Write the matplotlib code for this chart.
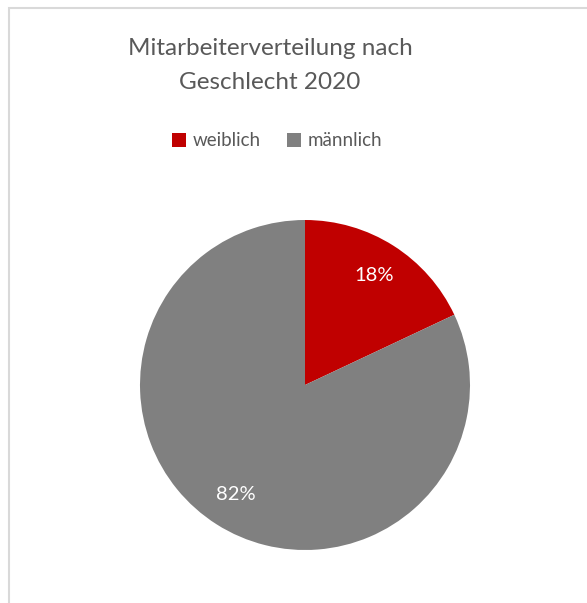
import matplotlib
matplotlib.use("Agg")
import matplotlib.pyplot as plt
from matplotlib.patches import Rectangle

labels = ["weiblich", "männlich"]
values = [18, 82]
colors = ["#C00000", "#808080"]
title = "Mitarbeiterverteilung nach\nGeschlecht 2020"

W, H = 587, 603
fig = plt.figure(figsize=(W / 100, H / 100), dpi=100)
fig.patch.set_facecolor("white")
plt.rcParams["font.family"] = ["Lato", "DejaVu Sans"]

# border
fig.add_artist(Rectangle((9 / W, -0.1), 1.2, (H - 8) / H + 0.1, transform=fig.transFigure,
                         fill=False, edgecolor="#D9D9D9", linewidth=1.5))

ax = fig.add_axes([140 / W, 53 / H, 330 / W, 330 / H])
wedges, texts, autotexts = ax.pie(values, colors=colors, startangle=90, counterclock=False,
                                  autopct=lambda p: f"{p:.0f}%", pctdistance=0.787,
                                  textprops=dict(color="white", fontsize=14.5),
                                  wedgeprops=dict(linewidth=0))
ax.set_xlim(-1, 1)
ax.set_ylim(-1, 1)
ax.set_aspect("equal")
ax.axis("off")

fig.text(270 / W, 1 - 65.5 / H, title, ha="center", va="center", fontsize=17.5,
         color="#595959", linespacing=1.75)

fig.legend(wedges, labels, loc="center", bbox_to_anchor=(277 / W, 1 - 141 / H), ncol=2,
           frameon=False, fontsize=13.5, handlelength=0.75, handleheight=0.75,
           handletextpad=0.35, columnspacing=1.4, labelcolor="#595959")

fig.savefig("out.png", dpi=100)
